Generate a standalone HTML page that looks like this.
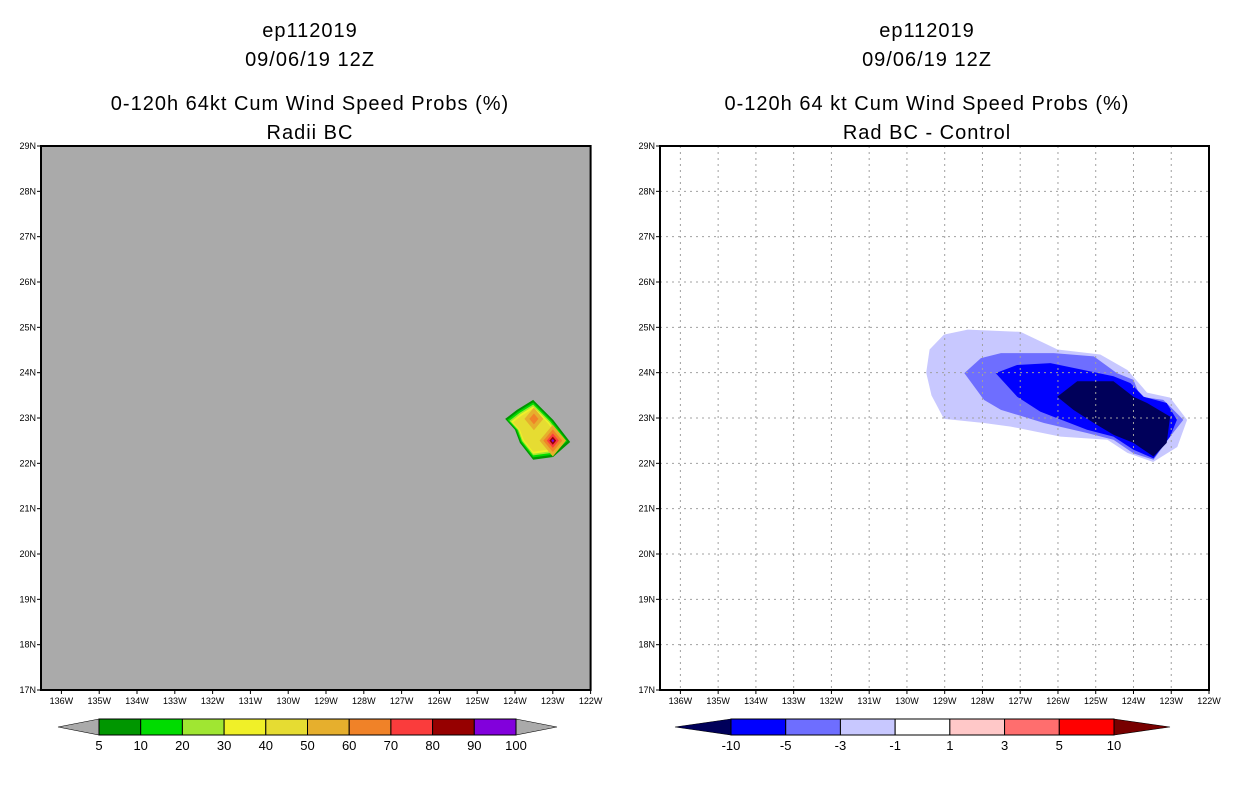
<!DOCTYPE html>
<html><head><meta charset="utf-8">
<style>
body{margin:0;background:#fff;}
svg{display:block;font-family:"Liberation Sans",sans-serif;}
.t{font-size:20px;fill:#000;text-anchor:middle;letter-spacing:1px}
.ax{font-size:9px;fill:#000}
.cb{font-size:13px;fill:#000;text-anchor:middle}
</style></head><body>
<svg id="s" width="1236" height="800">
<rect width="1236" height="800" fill="#fff"/>
<g>
<text class="t" x="310" y="37">ep112019</text>
<text class="t" x="310" y="66">09/06/19 12Z</text>
<text class="t" x="310" y="110">0-120h 64kt Cum Wind Speed Probs (%)</text>
<text class="t" x="310" y="139">Radii BC</text>
</g>
<g>
<text class="t" x="927" y="37">ep112019</text>
<text class="t" x="927" y="66">09/06/19 12Z</text>
<text class="t" x="927" y="110">0-120h 64 kt Cum Wind Speed Probs (%)</text>
<text class="t" x="927" y="139">Rad BC - Control</text>
</g>
<g id="L"></g><g id="R"></g>
</svg>
<script>
// data
const lonTicks=[136,135,134,133,132,131,130,129,128,127,126,125,124,123,122];
const latTicks=[17,18,19,20,21,22,23,24,25,26,27,28,29];
// left probability blob (deg W, deg N)
const probOuterLon=[124.26,123.95,123.52,122.99,122.54,122.99,123.52,123.87,124.0];
const probOuterLat=[22.98,23.18,23.40,22.96,22.47,22.14,22.08,22.45,22.74];
const probRingScale=[1,0.92,0.85,0.79,0.72];
const probRingColors=["#009600","#00dc00","#a0e632","#f0f028","#e6dc32"];
const peakLon=[123.5,123.0];
const peakLat=[22.98,22.5];
const peakRadius=[[0.25,0.12],[0.35,0.25,0.16,0.09,0.04]];
const peakColors=[["#e6af2d","#f08228"],["#e6af2d","#f08228","#fa3c3c","#960000","#8200dc"]];
// right difference contours
const diffColors=["#c8c8ff","#6e6eff","#0000ff","#00005a"];
const diffLon=[
[129.02,129.35,129.49,129.40,129.02,128.39,126.99,126.01,124.88,124.16,123.64,123.03,122.58,122.84,123.48,124.16,124.69,125.93,127.25,127.96],
[128.48,128.04,127.51,126.11,125.05,124.44,124.0,123.82,123.21,122.94,122.68,123.03,123.47,124.0,124.53,125.23,126.37,127.51,127.96],
[127.65,127.08,126.2,125.32,124.53,124.08,123.73,123.12,122.85,123.03,123.47,124.0,124.53,125.23,126.47,127.08],
[126.02,125.49,124.53,124.0,123.64,123.03,123.12,123.47,124.0,124.53,125.05,125.59]];
const diffLat=[
[22.98,23.5,24.0,24.51,24.84,24.95,24.9,24.51,24.40,24.06,23.56,23.45,22.96,22.36,22.03,22.23,22.52,22.59,22.81,22.89],
[23.99,24.32,24.43,24.43,24.36,23.99,23.84,23.47,23.40,23.18,22.96,22.59,22.08,22.22,22.52,22.67,22.89,23.18,23.40],
[23.99,24.17,24.21,24.06,23.92,23.77,23.47,23.33,22.96,22.59,22.11,22.30,22.59,22.74,23.14,23.47],
[23.47,23.81,23.81,23.47,23.33,23.03,22.45,22.15,22.45,22.63,22.89,23.18]];
const cbLeftLabels=["5","10","20","30","40","50","60","70","80","90","100"];
const cbLeftColors=["#009600","#00dc00","#a0e632","#f0f028","#e6dc32","#e6af2d","#f08228","#fa3c3c","#960000","#8200dc"];
const cbRightLabels=["-10","-5","-3","-1","1","3","5","10"];
const cbRightColors=["#0000ff","#6e6eff","#c8c8ff","#ffffff","#ffc8c8","#ff6e6e","#ff0000"];

const NS="http://www.w3.org/2000/svg";
function mk(p,t,a){const e=document.createElementNS(NS,t);for(const k in a)e.setAttribute(k,a[k]);p.appendChild(e);return e;}
function panel(g,x0,x1){
  const y0=146,y1=690;
  const lonW=136.54;
  const sx=l=>x1-(l-122)*(x1-x0)/(lonW-122);
  const sy=v=>y1-(v-17)*(y1-y0)/12;
  return {sx,sy,x0,x1,y0,y1};
}
function axes(g,P,grid){
  lonTicks.forEach(l=>{const x=P.sx(l);
    if(grid&&l!==122){const ln=mk(g,'line',{x1:x,x2:x,y1:P.y0,y2:P.y1,stroke:'#a0a0a0','stroke-dasharray':'2,4'});}
    mk(g,'line',{x1:x,x2:x,y1:P.y1,y2:P.y1+4,stroke:'#000'});
    const t=mk(g,'text',{x:x,y:P.y1+14,class:'ax','text-anchor':'middle'});t.textContent=l+'W';
    });
  latTicks.forEach(v=>{const y=P.sy(v);
    if(grid&&v!==17&&v!==29){const ln=mk(g,'line',{x1:P.x0,x2:P.x1,y1:y,y2:y,stroke:'#a0a0a0','stroke-dasharray':'2,4'});}
    mk(g,'line',{x1:P.x0-4,x2:P.x0,y1:y,y2:y,stroke:'#000'});
    const t=mk(g,'text',{x:P.x0-5,y:y+3,class:'ax','text-anchor':'end'});t.textContent=v+'N';
    });
  const b=mk(g,'rect',{x:P.x0,y:P.y0,width:P.x1-P.x0,height:P.y1-P.y0,fill:'none',stroke:'#000','stroke-width':2});
  
}
function poly(g,P,lons,lats,c,name){
  const pts=lons.map((l,i)=>P.sx(l)+','+P.sy(lats[i])).join(' ');
  const p=mk(g,'polygon',{points:pts,fill:c});
  
}
function colorbar(g,x0,x1,y,labels,colors,lt,rt,name,al){
  const n=colors.length,w=(x1-x0)/n,h=16;
  mk(g,'polygon',{points:`${x0},${y} ${x0-al},${y+h/2} ${x0},${y+h}`,fill:lt,stroke:'#000','stroke-width':0.6});
  mk(g,'polygon',{points:`${x1},${y} ${x1+al},${y+h/2} ${x1},${y+h}`,fill:rt,stroke:'#000','stroke-width':0.6});
  colors.forEach((c,i)=>{const r=mk(g,'rect',{x:x0+i*w,y:y,width:w,height:h,fill:c,stroke:'#000','stroke-width':1});
    });
  labels.forEach((s,i)=>{const t=mk(g,'text',{x:x0+i*w,y:y+h+15,class:'cb'});t.textContent=s;
    });
}
// left
const gL=document.getElementById('L');


const PL=panel(gL,41,590.6);
mk(gL,'rect',{x:41,y:146,width:549.6,height:544,fill:'#aaaaaa'});
const cLon=probOuterLon.reduce((a,b)=>a+b)/probOuterLon.length,cLat=probOuterLat.reduce((a,b)=>a+b)/probOuterLat.length;
probRingScale.forEach((s,k)=>{
  poly(gL,PL,probOuterLon.map(l=>cLon+(l-cLon)*s),probOuterLat.map(v=>cLat+(v-cLat)*s),probRingColors[k],'prob-contour');
});
peakLon.forEach((pl,i)=>{peakRadius[i].forEach((r,k)=>{
  poly(gL,PL,[pl-r,pl,pl+r,pl],[peakLat[i],peakLat[i]+r*1.0,peakLat[i],peakLat[i]-r*1.0],peakColors[i][k],'prob-peak');
});});
axes(gL,PL,false);
colorbar(gL,99,516,719,cbLeftLabels,cbLeftColors,'#aaaaaa','#aaaaaa','left-colorbar',41);
// right
const gR=document.getElementById('R');


const PR=panel(gR,660,1209);
diffLon.forEach((ls,k)=>poly(gR,PR,ls,diffLat[k],diffColors[k],'diff-contour'));
axes(gR,PR,true);
colorbar(gR,731,1114,719,cbRightLabels,cbRightColors,'#00005a','#780000','right-colorbar',56);
</script>
</body></html>
